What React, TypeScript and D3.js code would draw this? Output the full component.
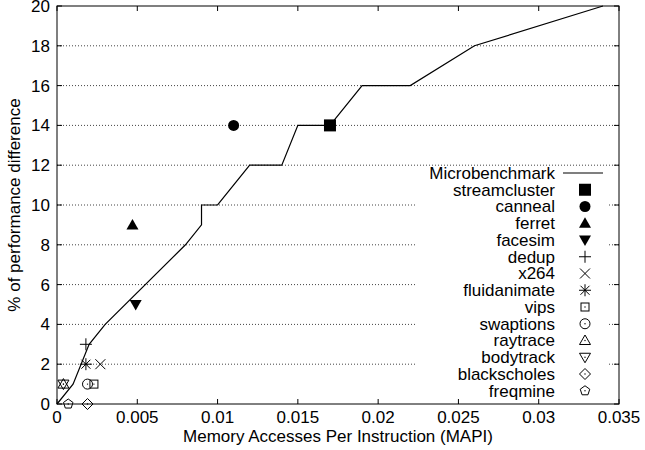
import React from "react";
import * as d3 from "d3";

const microX = [0, 0.001, 0.002, 0.003, 0.008, 0.009, 0.009, 0.010, 0.012, 0.014, 0.015, 0.017, 0.019, 0.022, 0.026, 0.034];
const microY = [0, 1, 3, 4, 8, 9, 10, 10, 12, 12, 14, 14, 16, 16, 18, 20];

const benchNames = ["streamcluster", "canneal", "ferret", "facesim", "dedup", "x264", "fluidanimate", "vips", "swaptions", "raytrace", "bodytrack", "blackscholes", "freqmine"];
const benchX = [0.017, 0.011, 0.0047, 0.0049, 0.0018, 0.0027, 0.0018, 0.0023, 0.0019, 0.0004, 0.0004, 0.0019, 0.0007];
const benchY = [14, 14, 9, 5, 3, 2, 2, 1, 1, 1, 1, 0, 0];
const benchSymbols = ["fsquare", "fcircle", "ftriup", "ftridown", "plus", "cross", "star", "osquare", "ocircle", "otriup", "otridown", "odiamond", "opentagon"];

const xTicks = [0, 0.005, 0.01, 0.015, 0.02, 0.025, 0.03, 0.035];
const xTickLabels = ["0", "0.005", "0.01", "0.015", "0.02", "0.025", "0.03", "0.035"];
const yTicks = [0, 2, 4, 6, 8, 10, 12, 14, 16, 18, 20];

const W = 645, H = 450;
const L = 57, R = 619, T = 6, B = 404;
const FONT = "'Liberation Sans', Arial, Helvetica, sans-serif";

function Marker({ type, x, y }: { type: string; x: number; y: number }) {
  const sw = 1;
  const dot = <circle cx={0} cy={0} r={0.7} fill="#000" />;
  let el: React.ReactNode = null;
  switch (type) {
    case "fsquare":
      el = <rect x={-6} y={-6} width={12} height={12} fill="#000" />;
      break;
    case "fcircle":
      el = <circle r={5.5} fill="#000" />;
      break;
    case "ftriup":
      el = <path d="M0,-6 L6,4.5 L-6,4.5 Z" fill="#000" />;
      break;
    case "ftridown":
      el = <path d="M0,6 L6,-4.5 L-6,-4.5 Z" fill="#000" />;
      break;
    case "plus":
      el = <path d="M-6,0 H6 M0,-6 V6" stroke="#000" strokeWidth={sw} fill="none" />;
      break;
    case "cross":
      el = <path d="M-5,-5 L5,5 M-5,5 L5,-5" stroke="#000" strokeWidth={sw} fill="none" />;
      break;
    case "star":
      el = <path d="M-6,0 H6 M0,-6 V6 M-4.5,-4.5 L4.5,4.5 M-4.5,4.5 L4.5,-4.5" stroke="#000" strokeWidth={sw} fill="none" />;
      break;
    case "osquare":
      el = <g><rect x={-4} y={-4} width={8} height={8} fill="none" stroke="#000" strokeWidth={sw} />{dot}</g>;
      break;
    case "ocircle":
      el = <g><circle r={5} fill="none" stroke="#000" strokeWidth={sw} />{dot}</g>;
      break;
    case "otriup":
      el = <g><path d="M0,-5.5 L5.5,4 L-5.5,4 Z" fill="none" stroke="#000" strokeWidth={sw} />{dot}</g>;
      break;
    case "otridown":
      el = <g><path d="M0,5.5 L5.5,-4 L-5.5,-4 Z" fill="none" stroke="#000" strokeWidth={sw} />{dot}</g>;
      break;
    case "odiamond":
      el = <g><path d="M0,-5.5 L5.5,0 L0,5.5 L-5.5,0 Z" fill="none" stroke="#000" strokeWidth={sw} />{dot}</g>;
      break;
    case "opentagon": {
      const pts = d3.range(5).map((i) => {
        const a = -Math.PI / 2 + (i * 2 * Math.PI) / 5;
        return [5 * Math.cos(a), 5 * Math.sin(a)];
      });
      el = <g><path d={"M" + pts.map((p) => p.join(",")).join("L") + "Z"} fill="none" stroke="#000" strokeWidth={sw} />{dot}</g>;
      break;
    }
  }
  return <g transform={`translate(${x},${y})`}>{el}</g>;
}

export default function App() {
  const x = d3.scaleLinear().domain([0, 0.035]).range([L, R]);
  const y = d3.scaleLinear().domain([0, 20]).range([B, T]);
  const line = d3.line<number>().x((_, i) => x(microX[i])).y((_, i) => y(microY[i]));
  const linePath = line(microX) || "";

  const legendTextX = 555;
  const legendSymX = 585;
  const legendY0 = 173;
  const legendDY = 16.75;

  return (
    <svg width={W} height={H} style={{ position: "absolute", left: 0, top: 0, background: "#fff" }} fontFamily={FONT}>
      <rect x={0} y={0} width={W} height={H} fill="#fff" />
      {/* grid */}
      {yTicks.filter((t) => t > 0 && t < 20).map((t) => (
        <line key={"g" + t} x1={L} x2={R} y1={y(t)} y2={y(t)} stroke="#444" strokeWidth={1} strokeDasharray="1,2" />
      ))}
      {/* legend opaque box */}
      <rect x={415} y={167} width={193} height={B - 167} fill="#fff" />
      {/* frame */}
      <rect x={L} y={T} width={R - L} height={B - T} fill="none" stroke="#000" strokeWidth={1} />
      {/* ticks */}
      {yTicks.map((t) => (
        <g key={"yt" + t}>
          <line x1={L} x2={L + 5} y1={y(t)} y2={y(t)} stroke="#000" />
          <line x1={R - 5} x2={R} y1={y(t)} y2={y(t)} stroke="#000" />
          <text x={50} y={y(t)} dy="0.35em" textAnchor="end" fontSize={17}>{t}</text>
        </g>
      ))}
      {xTicks.map((t, i) => (
        <g key={"xt" + i}>
          <line x1={x(t)} x2={x(t)} y1={B} y2={B - 5} stroke="#000" />
          <line x1={x(t)} x2={x(t)} y1={T} y2={T + 5} stroke="#000" />
          <text x={x(t)} y={423} textAnchor="middle" fontSize={17}>{xTickLabels[i]}</text>
        </g>
      ))}
      {/* axis titles */}
      <text x={(L + R) / 2} y={442} textAnchor="middle" fontSize={17}>Memory Accesses Per Instruction (MAPI)</text>
      <text transform={`translate(20,${(T + B) / 2}) rotate(-90)`} textAnchor="middle" fontSize={17}>% of performance difference</text>
      {/* microbenchmark line */}
      <path d={linePath} fill="none" stroke="#000" strokeWidth={1.2} />
      {/* benchmark points */}
      {benchNames.map((n, i) => (
        <Marker key={n} type={benchSymbols[i]} x={x(benchX[i])} y={y(benchY[i])} />
      ))}
      {/* legend */}
      <text x={legendTextX} y={legendY0} dy="0.35em" textAnchor="end" fontSize={17}>Microbenchmark</text>
      <line x1={563} x2={603} y1={legendY0} y2={legendY0} stroke="#000" strokeWidth={1.2} />
      {benchNames.map((n, i) => {
        const ly = legendY0 + (i + 1) * legendDY;
        return (
          <g key={"l" + n}>
            <text x={legendTextX} y={ly} dy="0.35em" textAnchor="end" fontSize={17}>{n}</text>
            <Marker type={benchSymbols[i]} x={legendSymX} y={ly} />
          </g>
        );
      })}
    </svg>
  );
}
